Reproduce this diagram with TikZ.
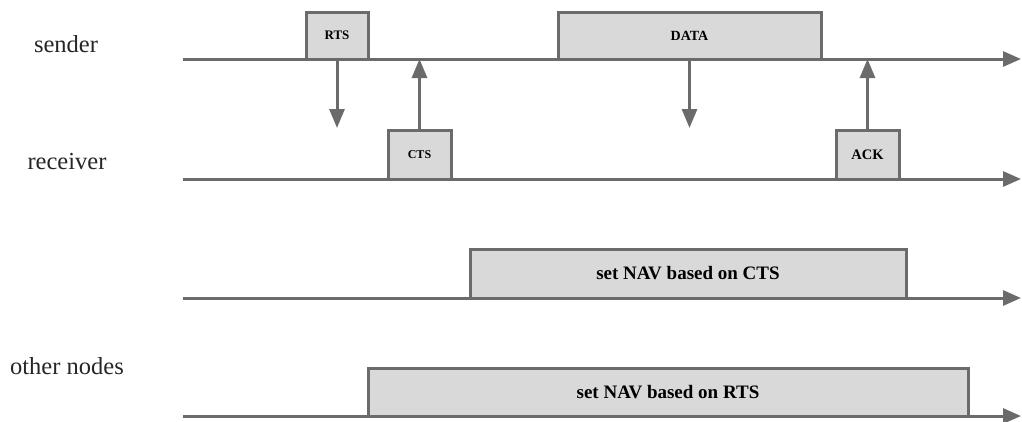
\documentclass[tikz,border=0pt]{standalone}
\usepackage{fontspec}
\setmainfont{Liberation Serif}
\usetikzlibrary{arrows.meta}
\definecolor{linegray}{HTML}{6B6B6B}
\definecolor{boxgray}{HTML}{D9D9D9}
\begin{document}
\begin{tikzpicture}[x=1pt,y=-1pt,
  axis/.style={draw=linegray, line width=3pt, -{Triangle[length=18pt,width=15pt]}},
  signal/.style={draw=linegray, line width=3pt, -{Triangle[length=19pt,width=15pt]}},
  frame/.style={draw=linegray, fill=boxgray, line width=3pt, inner sep=0pt, outer sep=0pt,
    anchor=south west, font=\bfseries},
  lane/.style={font=\fontsize{24.5}{26}\selectfont, text=black!85}
]
\useasboundingbox (0,0) rectangle (1022,421);

% lane labels
\node[lane] (lsender) at (66,44) {sender};
\node[lane] (lreceiver) at (67,162) {receiver};
\node[lane] (lother) at (67,366) {other nodes};

% time axes
\coordinate (s0) at (183,59);  \coordinate (s1) at (1021,59);
\coordinate (r0) at (183,179); \coordinate (r1) at (1021,179);
\coordinate (c0) at (183,298); \coordinate (c1) at (1021,298);
\coordinate (n0) at (183,416); \coordinate (n1) at (1021,416);
\draw[axis] (s0) -- (s1);
\draw[axis] (r0) -- (r1);
\draw[axis] (c0) -- (c1);
\draw[axis] (n0) -- (n1);

% frames on the medium
\node[frame, minimum width=62pt, minimum height=47pt, font=\bfseries\fontsize{13}{14}\selectfont] (rts) at (306,59) {RTS};
\node[frame, minimum width=63pt, minimum height=49pt, font=\bfseries\fontsize{12}{14}\selectfont] (cts) at (388,179) {CTS};
\node[frame, minimum width=263pt, minimum height=47pt, font=\bfseries\fontsize{14}{16}\selectfont] (data) at (558,59) {DATA};
\node[frame, minimum width=63pt, minimum height=49pt, font=\bfseries\fontsize{14.5}{16}\selectfont] (ack) at (836,179) {ACK};
\node[frame, minimum width=436pt, minimum height=49pt, font=\bfseries\fontsize{19}{21}\selectfont] (navcts) at (470,298) {set NAV based on CTS};
\node[frame, minimum width=600pt, minimum height=48pt, font=\bfseries\fontsize{19}{21}\selectfont] (navrts) at (368,416) {set NAV based on RTS};

% signal arrows between sender and receiver
\coordinate (rtsend) at (337,128);
\coordinate (ctsend) at (419.5,59);
\coordinate (dataend) at (689.5,128);
\coordinate (ackend) at (867.5,59);
\draw[signal] (rts.south) -- (rtsend);
\draw[signal] (cts.north) -- (ctsend);
\draw[signal] (data.south) -- (dataend);
\draw[signal] (ack.north) -- (ackend);
\end{tikzpicture}
\end{document}
